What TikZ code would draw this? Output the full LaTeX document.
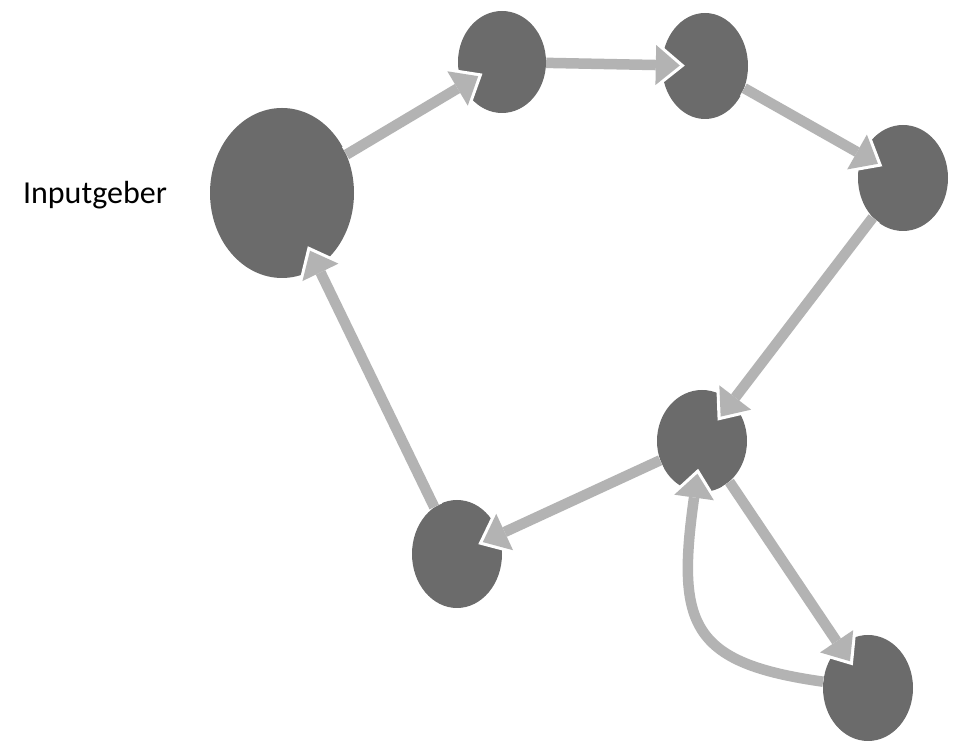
\documentclass[tikz,border=0pt]{standalone}
\usepackage{fontspec}
\setmainfont{Carlito}
\usepackage{tikz}
\usetikzlibrary{shapes.geometric,arrows.meta}

\definecolor{knotgray}{HTML}{6B6B6B}
\definecolor{linkgray}{HTML}{B3B3B3}

\begin{document}
\begin{tikzpicture}[x=1pt,y=1pt,
            knot/.style={ellipse,fill=knotgray,inner sep=0pt},
            arrow/.style={draw=linkgray,line width=10.5pt,-{Triangle[length=24pt,width=40pt,line width=0pt]},shorten >=-18pt,
                preaction={draw=white,line width=17pt,-{Triangle[length=34pt,width=56pt,line width=0pt]},shorten >=-23pt}}]
            \useasboundingbox (0,0) rectangle (954,741);
            \node[knot,minimum width=144pt,minimum height=170pt] (n1) at (282,548) {};
            \node[knot,minimum width=88pt,minimum height=102pt] (n2) at (502,679) {};
            \node[knot,minimum width=86pt,minimum height=106pt] (n3) at (705,675) {};
            \node[knot,minimum width=90pt,minimum height=106pt] (n4) at (903,563) {};
            \node[knot,minimum width=90pt,minimum height=102pt] (n5) at (702,300) {};
            \node[knot,minimum width=90pt,minimum height=108pt] (n6) at (457,187) {};
            \node[knot,minimum width=90pt,minimum height=106pt] (n7) at (868,53) {};
            \node[font=\fontsize{32}{36}\selectfont] (geber) at (95,546) {Inputgeber};
            \draw[arrow] (n1)--(n2);
            \draw[arrow] (n2)--(n3);
            \draw[arrow] (n3)--(n4);
            \draw[arrow] (n4)--(n5);
            \draw[arrow] (n5)--(n6);
            \draw[arrow] (n6)--(n1);
            \draw[arrow] (n5)--(n7);
            \draw[arrow] (n7) to[out=172,in=-98,looseness=1.5] (n5);
        \end{tikzpicture}
\end{document}
